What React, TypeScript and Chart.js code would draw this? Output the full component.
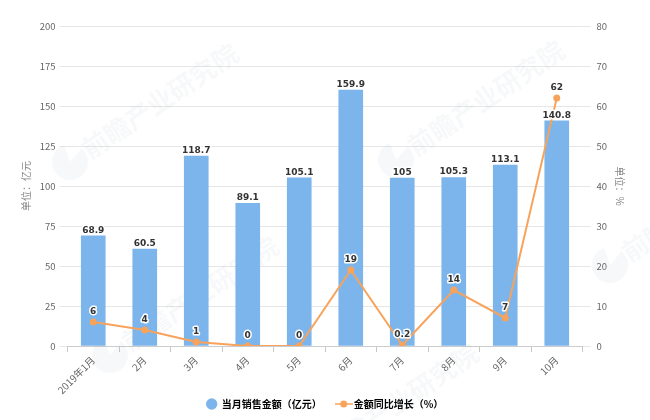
import React, { useEffect, useRef } from 'react';
import Chart from 'chart.js/auto';

const months = ['2019年1月', '2月', '3月', '4月', '5月', '6月', '7月', '8月', '9月', '10月'];
const salesAmount = [68.9, 60.5, 118.7, 89.1, 105.1, 159.9, 105, 105.3, 113.1, 140.8];
const yoyGrowth = [6, 4, 1, 0, 0, 19, 0.2, 14, 7, 62];
const salesLabel = '当月销售金额（亿元）';
const growthLabel = '金额同比增长（%）';
const watermarkText = '前瞻产业研究院';

const FONT = '"Noto Sans CJK SC", "Noto Sans", sans-serif';
const BLUE = '#7cb5ec';
const ORANGE = '#f7a35c';
const GRID = '#e6e6e6';
const TEXT = '#666666';

// Tick labels get clipped at the scale's bottom, so let the long first label run past it
const unclipTicksPlugin = {
  id: 'unclipTicks',
  beforeDraw(chart: any) {
    chart.scales.x.bottom = chart.height;
  },
};

// Faint company watermark behind the chart
const watermarkPlugin = {
  id: 'watermark',
  beforeDatasetsDraw(chart: any) {
    const { ctx } = chart;
    const spots = [
      [160, 101],
      [486, 98],
      [700, 204],
      [400, 401],
      [200, 294],
    ];
    const logos = [
      [70, 162],
      [396, 160],
      [610, 265],
      [110, 355],
    ];
    ctx.save();
    ctx.fillStyle = 'rgba(120, 130, 150, 0.06)';
    ctx.textAlign = 'center';
    ctx.textBaseline = 'middle';
    spots.forEach(([x, y]) => {
      ctx.save();
      ctx.translate(x, y);
      ctx.rotate((-34 * Math.PI) / 180);
      ctx.font = `bold 26px ${FONT}`;
      ctx.fillText(watermarkText, 0, 0);
      ctx.restore();
    });
    logos.forEach(([x, y]) => {
      ctx.beginPath();
      ctx.moveTo(x, y);
      ctx.arc(x, y, 18, (-50 * Math.PI) / 180, (250 * Math.PI) / 180);
      ctx.closePath();
      ctx.fill();
    });
    ctx.restore();
  },
};

// Value labels with a white outline above bars and points
const valueLabelPlugin = {
  id: 'valueLabels',
  afterDatasetsDraw(chart: any) {
    const { ctx } = chart;
    ctx.save();
    ctx.font = `bold 9px "DejaVu Sans", sans-serif`;
    ctx.textAlign = 'center';
    ctx.textBaseline = 'bottom';
    ctx.lineJoin = 'round';
    chart.data.datasets.forEach((ds: any, i: number) => {
      const gap = ds.type === 'line' ? 6 : 1;
      chart.getDatasetMeta(i).data.forEach((el: any, j: number) => {
        const text = String(ds.data[j]);
        ctx.lineWidth = 3;
        ctx.strokeStyle = '#ffffff';
        ctx.strokeText(text, el.x, el.y - gap);
        ctx.fillStyle = '#333333';
        ctx.fillText(text, el.x, el.y - gap);
      });
    });
    ctx.restore();
  },
};

function lineLegendIcon() {
  const c = document.createElement('canvas');
  c.width = 18;
  c.height = 10;
  const g = c.getContext('2d');
  if (g) {
    g.strokeStyle = ORANGE;
    g.fillStyle = ORANGE;
    g.lineWidth = 1.5;
    g.beginPath();
    g.moveTo(0, 5);
    g.lineTo(18, 5);
    g.stroke();
    g.beginPath();
    g.arc(9, 5, 3.5, 0, Math.PI * 2);
    g.fill();
  }
  return c;
}

const App: React.FC = () => {
  const chartRef = useRef<HTMLCanvasElement>(null);

  useEffect(() => {
    if (!chartRef.current) return;
    const ctx = chartRef.current.getContext('2d');
    if (!ctx) return;

    const chart = new Chart(ctx, {
      type: 'bar',
      data: {
        labels: months,
        datasets: [
          {
            type: 'bar',
            label: salesLabel,
            data: salesAmount,
            backgroundColor: BLUE,
            barThickness: 24,
            yAxisID: 'y',
            order: 2,
          },
          {
            type: 'line',
            label: growthLabel,
            data: yoyGrowth,
            borderColor: ORANGE,
            backgroundColor: ORANGE,
            borderWidth: 2,
            pointRadius: 3.5,
            pointBackgroundColor: ORANGE,
            pointBorderWidth: 0,
            tension: 0,
            yAxisID: 'y1',
            order: 1,
          },
        ] as any,
      },
      options: {
        animation: false,
        responsive: false,
        devicePixelRatio: 1,
        layout: { padding: { top: 26, left: 0, right: 0, bottom: 1 } },
        scales: {
          x: {
            afterFit: (s: any) => { s.height = 36; },
            grid: { display: true, drawOnChartArea: false, color: '#c8c8c8', tickLength: 6 },
            border: { color: '#cccccc' },
            ticks: {
              color: TEXT,
              font: { family: FONT, size: 10 },
              minRotation: 45,
              maxRotation: 45,
              autoSkip: false,
              padding: 2,
            },
          },
          y: {
            position: 'left',
            min: 0,
            max: 200,
            afterFit: (s: any) => { s.width = 67.5; },
            border: { display: false },
            grid: { color: GRID, tickLength: 8 },
            ticks: { stepSize: 25, color: TEXT, font: { family: FONT, size: 9.5 }, padding: 4 },
            title: { display: true, text: '单位：亿元', color: '#888888', font: { family: FONT, size: 10 }, padding: { top: 20, bottom: 0 } },
          },
          y1: {
            position: 'right',
            min: 0,
            max: 80,
            afterFit: (s: any) => { s.width = 67.5; },
            border: { display: false },
            grid: { drawOnChartArea: false, color: GRID, tickLength: 8 },
            ticks: { stepSize: 10, color: TEXT, font: { family: FONT, size: 9.5 }, padding: 6 },
            title: { display: true, text: '单位：%', color: '#888888', font: { family: FONT, size: 10 }, padding: { top: 24, bottom: 0 } },
          },
        },
        plugins: {
          tooltip: { enabled: false },
          legend: {
            position: 'bottom',
            labels: {
              color: '#444444',
              font: { family: FONT, size: 10, weight: 'bold' },
              usePointStyle: true,
              boxHeight: 8,
              padding: 17,
              generateLabels: () => [
                { text: salesLabel, pointStyle: 'circle', fillStyle: BLUE, strokeStyle: BLUE, lineWidth: 0, datasetIndex: 0 },
                { text: growthLabel, pointStyle: lineLegendIcon(), fillStyle: ORANGE, strokeStyle: ORANGE, lineWidth: 0, datasetIndex: 1 },
              ] as any,
            },
          },
        },
      } as any,
      plugins: [unclipTicksPlugin, watermarkPlugin, valueLabelPlugin],
    });

    return () => {
      chart.destroy();
    };
  }, []);

  return (
    <div style={{ position: 'absolute', left: 0, top: 0, width: 650, height: 420, background: '#fff' }}>
      <canvas ref={chartRef} width={650} height={420} style={{ width: 650, height: 420, display: 'block' }}></canvas>
    </div>
  );
};

export default App;
